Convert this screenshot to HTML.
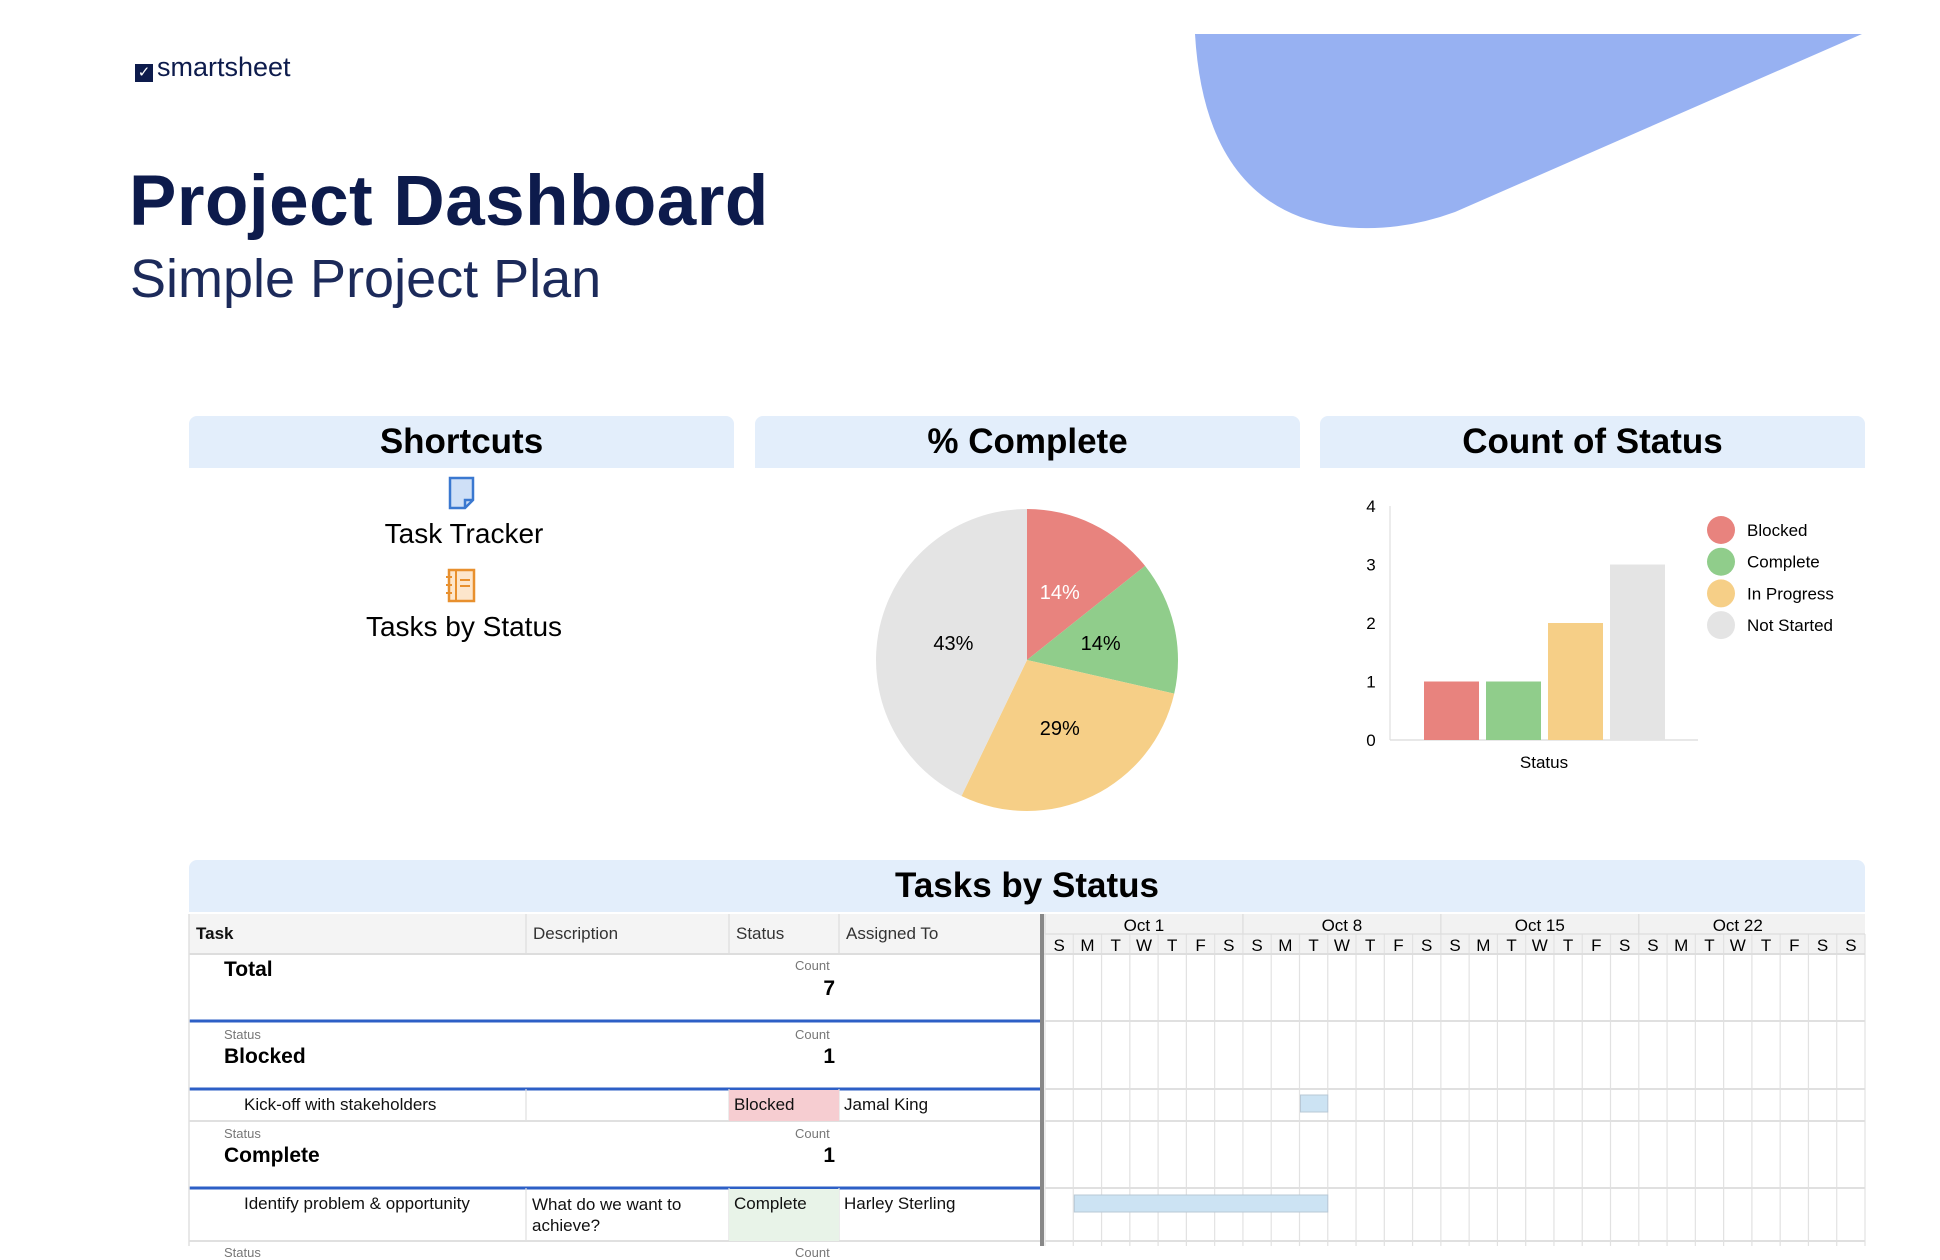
<!DOCTYPE html>
<html><head><meta charset="utf-8">
<style>
body{margin:0;width:1940px;height:1246px;overflow:hidden;background:#fff;font-family:"Liberation Sans",sans-serif;position:relative}
.abs{position:absolute}
.ph{position:absolute;background:#e3eefb;border-radius:8px 8px 0 0;text-align:center;font-weight:bold;font-size:35px;color:#000;line-height:52px;height:52px}
.cell{position:absolute;font-size:17px;color:#111;white-space:nowrap}
.small{position:absolute;font-size:13px;color:#777}
.big{position:absolute;font-size:21px;font-weight:bold;color:#000}
</style></head><body>
<svg class="abs" style="left:0;top:0" width="1940" height="1246">
<path d="M1195,34 L1862,34 L1455,212 Q1395,234 1335,226 Q1205,205 1195,34 Z" fill="#97b1f2"/>
</svg>
<div class="abs" style="left:135px;top:52px;font-size:27px;color:#0d1b4c;">
<span style="display:inline-block;width:18px;height:18px;background:#0d1b4c;color:#fff;font-size:15px;line-height:18px;text-align:center;vertical-align:-1px;margin-right:4px">✓</span>smartsheet</div>
<div class="abs" style="left:129px;top:161px;font-size:71px;font-weight:bold;color:#0d1b4c;letter-spacing:0.5px">Project Dashboard</div>
<div class="abs" style="left:130px;top:248px;font-size:54px;color:#1c2a5a">Simple Project Plan</div>

<div class="ph" style="left:189px;top:416px;width:545px">Shortcuts</div>
<div class="ph" style="left:755px;top:416px;width:545px">% Complete</div>
<div class="ph" style="left:1320px;top:416px;width:545px">Count of Status</div>

<svg class="abs" style="left:448px;top:476px" width="28" height="34"><path d="M2,2 H25 V24 L17,32 H2 Z" fill="#cfe0f7" stroke="#3a78d0" stroke-width="2.5"/><path d="M25,24 H17 V32" fill="none" stroke="#3a78d0" stroke-width="2.5"/></svg>
<div class="abs" style="left:289px;top:518px;width:350px;text-align:center;font-size:28px">Task Tracker</div>
<svg class="abs" style="left:445px;top:568px" width="32" height="36"><rect x="4" y="2" width="25" height="31" fill="#fde6cc" stroke="#e8902e" stroke-width="2.5"/><line x1="11" y1="2" x2="11" y2="33" stroke="#e8902e" stroke-width="2"/><line x1="15" y1="12" x2="25" y2="12" stroke="#e8902e" stroke-width="2"/><line x1="15" y1="18" x2="25" y2="18" stroke="#e8902e" stroke-width="2"/><line x1="1" y1="9" x2="7" y2="9" stroke="#e8902e" stroke-width="2"/><line x1="1" y1="17" x2="7" y2="17" stroke="#e8902e" stroke-width="2"/><line x1="1" y1="25" x2="7" y2="25" stroke="#e8902e" stroke-width="2"/></svg>
<div class="abs" style="left:289px;top:611px;width:350px;text-align:center;font-size:28px">Tasks by Status</div>

<svg id="charts" class="abs" style="left:0;top:0" width="1940" height="1246"></svg>

<div class="ph" style="left:189px;top:860px;width:1676px">Tasks by Status</div>

<script>
const statuses=["Blocked","Complete","In Progress","Not Started"];
const counts=[1,1,2,3];
const colors=["#e8837e","#90cd8b","#f6cf87","#e4e4e4"];
const yTicks=[0,1,2,3,4];
const pieLabels=["14%","14%","29%","43%"];
const weekLabels=["Oct 1","Oct 8","Oct 15","Oct 22"];
const dayLabels=["S","M","T","W","T","F","S","S","M","T","W","T","F","S","S","M","T","W","T","F","S","S","M","T","W","T","F","S","S"];
const taskStarts=[9,1];
const taskDurations=[1,9];

const NS="http://www.w3.org/2000/svg";
const svg=document.getElementById('charts');
function mk(tag,attrs,parent){const e=document.createElementNS(NS,tag);for(const k in attrs)e.setAttribute(k,attrs[k]);(parent||svg).appendChild(e);return e;}

// Pie
const cx=1027,cy=660,r=151;
const total=counts.reduce((a,b)=>a+b,0);
let ang=0;
counts.forEach((v,i)=>{
 const a0=ang,a1=ang+v/total*2*Math.PI;ang=a1;
 const x0=cx+r*Math.sin(a0),y0=cy-r*Math.cos(a0),x1=cx+r*Math.sin(a1),y1=cy-r*Math.cos(a1);
 const large=(a1-a0)>Math.PI?1:0;
 const p=mk('path',{d:`M${cx},${cy} L${x0},${y0} A${r},${r} 0 ${large} 1 ${x1},${y1} Z`,fill:colors[i]});
 
 
 const m=(a0+a1)/2;
 const t=mk('text',{x:cx+r*0.5*Math.sin(m),y:cy-r*0.5*Math.cos(m)+7,'text-anchor':'middle','font-size':20,fill:i==0?'#fff':'#000'});
 t.textContent=pieLabels[i];
 
 
});

// Bar chart
const ax=1390,base=740,unit=58.5;
function yS(v){return base-v*unit;}
const ax1=mk('line',{x1:ax,y1:yS(4),x2:ax,y2:base,stroke:'#e6e6e6','stroke-width':1.5});

const ax2=mk('line',{x1:ax,y1:base,x2:1698,y2:base,stroke:'#e0e0e0','stroke-width':1.5});

yTicks.forEach(v=>{const t=mk('text',{x:1371,y:yS(v)+6,'text-anchor':'middle','font-size':17,fill:'#000'});t.textContent=v;
 });
const bx0=1424,bw=55,bstep=62;
counts.forEach((v,i)=>{
 const b=mk('rect',{x:bx0+i*bstep,y:yS(v),width:bw,height:v*unit,fill:colors[i]});
 
 
});
const xl=mk('text',{x:1544,y:768,'text-anchor':'middle','font-size':17});xl.textContent='Status';

statuses.forEach((s,i)=>{
 const c=mk('circle',{cx:1721,cy:530+i*31.7,r:14,fill:colors[i]});
 
 const t=mk('text',{x:1747,y:536+i*31.7,'font-size':17});t.textContent=s;
 
});

// Gantt
const gx=1045,colW=820/29;
const g=mk('g',{});
mk('rect',{x:189,y:914,width:1676,height:40,fill:'#f4f4f4'},g);
mk('rect',{x:gx,y:914,width:820,height:40,fill:'#f2f2f2'},g);
for(let i=0;i<=29;i++){const x=gx+i*colW;
 mk('line',{x1:x,y1:934,x2:x,y2:1246,stroke:'#e2e2e2','stroke-width':1.2},g);}
weekLabels.forEach((w,i)=>{const x=gx+i*7*colW;
 mk('line',{x1:x,y1:914,x2:x,y2:934,stroke:'#dcdcdc','stroke-width':1.2},g);
 const t=mk('text',{x:x+3.5*colW,y:931,'text-anchor':'middle','font-size':17},g);t.textContent=w;
 });
dayLabels.forEach((d,i)=>{const t=mk('text',{x:gx+(i+0.5)*colW,y:951,'text-anchor':'middle','font-size':17},g);t.textContent=d;
 });
mk('line',{x1:189,y1:954,x2:1865,y2:954,stroke:'#dddddd','stroke-width':2},g);
mk('line',{x1:gx,y1:934,x2:1865,y2:934,stroke:'#dddddd','stroke-width':1.2},g);
[[1021,true],[1089,true],[1121,false],[1188,true],[1241,false]].forEach(([y,blue])=>{
 mk('line',{x1:gx,y1:y,x2:1865,y2:y,stroke:'#e0e0e0','stroke-width':2},g);
 mk('line',{x1:189,y1:y,x2:1040,y2:y,stroke:blue?'#2d5fc6':'#e0e0e0','stroke-width':blue?3:2},g);
});
[526,729,839].forEach(x=>mk('line',{x1:x,y1:914,x2:x,y2:954,stroke:'#dddddd','stroke-width':1.2},g));
[[1089,1121],[1188,1241]].forEach(([a,b])=>[526,729,839].forEach(x=>mk('line',{x1:x,y1:a,x2:x,y2:b,stroke:'#e0e0e0','stroke-width':1.2},g)));
mk('rect',{x:729,y:1090,width:110,height:31,fill:'#f6cdd1'},g);
mk('rect',{x:729,y:1189,width:110,height:52,fill:'#e8f3e8'},g);
mk('line',{x1:1042,y1:914,x2:1042,y2:1246,stroke:'#888','stroke-width':4},g);
mk('line',{x1:189,y1:914,x2:189,y2:1246,stroke:'#e0e0e0','stroke-width':1.5},g);
const barRows=[1095,1195];
taskStarts.forEach((s,i)=>{
 const b=mk('rect',{x:gx+s*colW+1,y:barRows[i],width:taskDurations[i]*colW-1,height:17,fill:'#cce3f3',stroke:'#b8c8d6','stroke-width':1},g);
 
 
});
</script>

<div class="cell" style="left:196px;top:924px;font-weight:bold">Task</div>
<div class="cell" style="left:533px;top:924px;color:#333">Description</div>
<div class="cell" style="left:736px;top:924px;color:#333">Status</div>
<div class="cell" style="left:846px;top:924px;color:#333">Assigned To</div>

<div class="big" style="left:224px;top:958px">Total</div>
<div class="small" style="left:795px;top:958px">Count</div>
<div class="big" style="left:800px;top:977px;width:35px;text-align:right">7</div>

<div class="small" style="left:224px;top:1027px">Status</div>
<div class="big" style="left:224px;top:1045px">Blocked</div>
<div class="small" style="left:795px;top:1027px">Count</div>
<div class="big" style="left:800px;top:1045px;width:35px;text-align:right">1</div>

<div class="cell" style="left:244px;top:1095px">Kick-off with stakeholders</div>
<div class="cell" style="left:734px;top:1095px">Blocked</div>
<div class="cell" style="left:844px;top:1095px">Jamal King</div>

<div class="small" style="left:224px;top:1126px">Status</div>
<div class="big" style="left:224px;top:1144px">Complete</div>
<div class="small" style="left:795px;top:1126px">Count</div>
<div class="big" style="left:800px;top:1144px;width:35px;text-align:right">1</div>

<div class="cell" style="left:244px;top:1194px">Identify problem &amp; opportunity</div>
<div class="cell" style="left:532px;top:1194px;white-space:normal;width:180px;line-height:21px">What do we want to achieve?</div>
<div class="cell" style="left:734px;top:1194px">Complete</div>
<div class="cell" style="left:844px;top:1194px">Harley Sterling</div>

<div class="small" style="left:224px;top:1245px">Status</div>
<div class="small" style="left:795px;top:1245px">Count</div>
</body></html>
